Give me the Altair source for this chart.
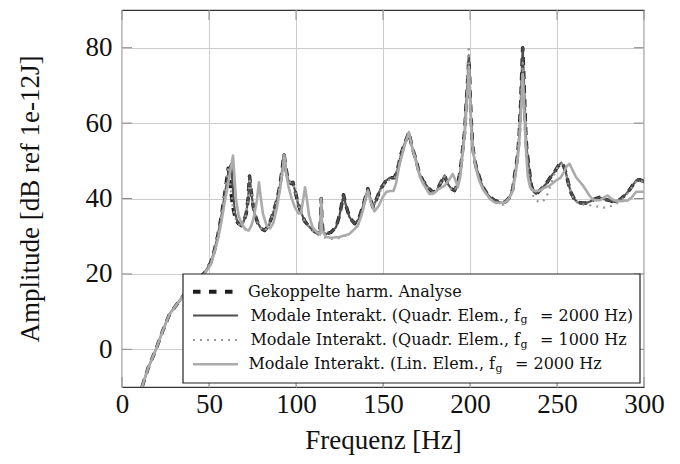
import altair as alt
import pandas as pd

# ---------------- data ----------------
# Gekoppelte harm. Analyse (black dashed)
f_harm = [11.5, 15, 19.5, 23.5, 27.5, 35, 42, 47.5, 51, 53, 55, 57, 59, 60.2, 61, 61.8, 62.6, 63.6, 65, 66.6,
          68.6, 70, 71.4, 72.5, 73.3, 74.2, 75.2, 76.2, 78, 80, 82, 84.5, 86.7, 89, 90.6, 92, 93.1, 94.2, 95.4, 97,
          98.2, 99.5, 101, 102.5, 105, 107.8, 110.5, 113.6, 114.2, 114.5, 114.8, 115.5, 117.4, 120, 123, 125, 126.5, 127.3, 128.5, 130.8,
          133.7, 136, 138.5, 141.3, 142.8, 144.2, 146, 148.5, 151.9, 154, 156.6, 158.5, 160.5, 162.4, 164.9, 166.5, 169.1, 171, 172.9, 176,
          178.6, 180.6, 183, 185.4, 187, 189.2, 191.1, 193, 194.5, 195.9, 197, 197.8, 198.8, 199.3, 199.8, 200.3, 200.7, 201.6, 202.5, 203.6,
          205.5, 207.4, 209.5, 211.2, 214, 217, 219, 220.8, 222.7, 224.6, 225.6, 226.5, 227.5, 228.3, 229.2, 229.8, 230.3, 230.8, 231.4, 232,
          232.6, 233.8, 235.2, 236.5, 238, 240.5, 243.8, 246, 248.5, 250.5, 252.4, 254, 255.3, 256.8, 258.1, 260, 261.9, 264, 266.7, 269,
          271.5, 274.4, 277, 280.1, 282, 284, 287, 289.7, 292, 295.5, 297.5, 300]
a_harm = [-10, -5, 0, 5, 9.5, 14, 17.5, 20.3, 23, 26, 30, 35, 41, 45, 48, 46, 42, 38, 35, 33.5,
          32.8, 34, 36, 40, 46, 42, 38.5, 36, 33.5, 32, 31.5, 33, 35.9, 39.5, 43, 47.5, 51.8, 48, 45, 44,
          44.3, 42, 39, 36.8, 34, 32.4, 31.3, 30.6, 35, 40, 35, 31, 30.6, 31, 32.4, 35.5, 39, 41, 38.5, 35,
          33.3, 34.5, 38, 42.6, 40, 37.7, 39.5, 42.5, 44.8, 45.5, 45.5, 48, 52, 54.5, 57.6, 54, 50, 46.5, 44.8, 42.8,
          41.7, 41.9, 44, 46.1, 44, 42.6, 42.1, 44, 47.5, 53.6, 58, 65, 72, 77, 72, 65, 60.7, 53.6, 50.5, 48.3,
          45.5, 43, 41.5, 40.5, 39.5, 39, 38.8, 39.3, 40.3, 42.5, 46, 48.5, 52, 57, 66, 74, 80, 74, 66, 58,
          53, 48.5, 43.5, 41.8, 41.2, 42.3, 43.9, 45.5, 47, 48.5, 49.5, 48.5, 46.5, 43.5, 41.5, 39.8, 39, 38.8, 38.8, 39.2,
          39.8, 40.3, 39.8, 39.5, 39.2, 39, 40, 41.2, 42.5, 44.8, 45, 44.5]

# Modale Interakt. (Quadr. Elem., fg = 2000 Hz)  (dark grey solid)
f_quad2000 = [11.5, 15, 19.5, 23.5, 27.5, 35, 42, 47.5, 51, 53, 55, 57, 59, 60.2, 61, 62, 62.8, 63.5, 64.3, 65,
              66.6, 68.6, 70, 71.4, 72.5, 73.3, 74.2, 75.2, 76.2, 78, 80, 82, 84.5, 86.7, 89, 90.6, 92, 93.1, 94.2, 95.4,
              97, 98.2, 99.5, 101, 102.5, 105, 107.8, 110.5, 113.6, 114.2, 114.5, 114.8, 115.5, 117.4, 120, 123, 125, 126.5, 127.3, 128.5,
              130.8, 133.7, 136, 138.5, 141.3, 142.8, 144.2, 146, 148.5, 151.9, 154, 156.6, 158.5, 160.5, 162.4, 164.9, 166.5, 169.1, 171, 172.9,
              176, 178.6, 180.6, 183, 185.4, 187, 189.2, 191.1, 193, 194.5, 195.9, 197, 197.8, 198.8, 199.3, 199.8, 200.3, 200.7, 201.6, 202.5,
              203.6, 205.5, 207.4, 209.5, 211.2, 214, 217, 219, 220.8, 222.7, 224.6, 225.6, 226.5, 227.5, 228.3, 229.2, 229.8, 230.3, 230.8, 231.4,
              232, 232.6, 233.8, 235.2, 236.5, 238, 240.5, 243.8, 246, 248.5, 250.5, 252.4, 254, 255.3, 256.8, 258.1, 260, 261.9, 264, 266.7,
              269, 271.5, 274.4, 277, 280.1, 282, 284, 287, 289.7, 292, 295.5, 297.5, 300]
a_quad2000 = [-10, -5, 0, 5, 9.5, 14, 17.5, 20.3, 23, 26, 30, 35, 41, 44, 46.5, 48.5, 49.2, 44, 39, 36,
              33.5, 32.8, 34, 36, 40, 46, 42, 38.5, 36, 33.5, 32, 31.5, 33, 35.9, 39.5, 43, 47.5, 51.8, 48, 45,
              44, 44.3, 42, 39, 36.8, 34, 32.4, 31.3, 30.6, 35, 40, 35, 31, 30.6, 31, 32.4, 35.5, 39, 41, 38.5,
              35, 33.3, 34.5, 38, 42.6, 40, 37.7, 39.5, 42.5, 44.8, 45.5, 45.5, 48, 52, 54.5, 57.6, 54, 50, 46.5, 44.8,
              42.8, 41.7, 41.9, 44, 46.1, 44, 42.6, 42.1, 44, 47.5, 53.6, 58, 65, 73, 78, 73, 65, 60.7, 53.6, 50.5,
              48.3, 45.5, 43, 41.5, 40.5, 39.5, 39, 38.8, 39.3, 40.3, 42.5, 46, 48.5, 52, 57, 66, 74, 80, 74, 66,
              58, 53, 48.5, 43.5, 41.8, 41.2, 42.3, 43.9, 45.5, 47, 48.5, 49.5, 48.5, 46.5, 43.5, 41.5, 39.8, 39, 38.8, 38.8,
              39.2, 39.8, 40.3, 39.8, 39.5, 39.2, 39, 40, 41.2, 42.5, 44.8, 45, 44.5]

# Modale Interakt. (Quadr. Elem., fg = 1000 Hz)  (light grey dotted)
f_quad1000 = [11.5, 15, 19.5, 23.5, 27.5, 35, 42, 47.5, 51, 53, 55, 57, 59, 60.2, 61, 61.8, 62.6, 63.6, 65, 66.6,
              68.6, 70, 71.4, 72.5, 73.3, 74.2, 75.2, 76.2, 78, 80, 82, 84.5, 86.7, 89, 90.6, 92, 93.1, 94.2, 95.4, 97,
              98.2, 99.5, 101, 102.5, 105, 107.8, 111, 115, 119, 123, 127, 131, 135, 138.5, 141.3, 142.8, 144.2, 146, 148.5, 151.9,
              154, 156.6, 158.5, 160.5, 162.4, 164.9, 166.5, 169.1, 171, 172.9, 176, 178.6, 180.6, 183, 185.4, 187, 189.2, 191.1, 193, 194.5,
              195.9, 197, 197.8, 198.8, 199.3, 199.8, 200.3, 200.7, 201.6, 202.5, 203.6, 205.5, 207.4, 209.5, 211.2, 214, 217, 219, 220.8, 222.7,
              224.6, 225.6, 226.5, 227.5, 228.3, 229.2, 229.8, 230.3, 230.8, 231.4, 232, 232.6, 233.8, 235.2, 236.5, 238, 240, 242, 244, 246,
              248.5, 250.5, 252.4, 254, 255.3, 256.8, 258.1, 260, 261.9, 264, 266.7, 269, 271.5, 274.4, 277, 280.1, 282, 284, 287, 289.7,
              292, 295.5, 297.5, 300]
a_quad1000 = [-10, -5, 0, 5, 9.5, 14, 17.5, 20.3, 23, 26, 30, 35, 41, 45, 48.5, 46, 42, 38, 35, 33.3,
              32.6, 33.8, 36, 40, 45.5, 42, 38.5, 36, 33.5, 32, 31.3, 33, 35.9, 39.5, 43, 47.5, 51.5, 48, 45, 44,
              44, 42, 39, 36.8, 34, 32.2, 30.8, 29.8, 29.3, 29.3, 29.8, 30.8, 32.5, 37, 42.3, 40, 37.5, 39.2, 42, 44.5,
              45, 45.3, 48, 52, 54.5, 57.4, 54, 50, 46.5, 44.8, 42.5, 41.5, 41.8, 44, 45.8, 44, 42.5, 42, 44, 47.5,
              53.6, 58.5, 66, 75, 80.5, 74, 66, 61, 53.6, 50.5, 48, 45, 42.8, 41, 40, 39, 38.5, 38.3, 38.8, 40,
              42.3, 45.5, 48.5, 52, 57, 65, 71, 76, 71, 64, 57, 52, 47, 42.5, 40.5, 39.5, 39, 39.3, 40.5, 43,
              46.5, 48.5, 49.3, 48.3, 46.3, 43.3, 41.3, 39.5, 38.8, 38.5, 38.3, 38.2, 38, 37.8, 37.6, 37.8, 38.2, 38.6, 39.6, 40.8,
              42.3, 44.5, 44.8, 44.3]

# Modale Interakt. (Lin. Elem., fg = 2000 Hz)  (light grey solid)
f_lin2000 = [11.5, 15, 19.5, 23.5, 27.5, 35, 42, 47.5, 51, 53, 55, 57, 59, 61, 62.5, 63.8, 64.6, 65.5, 67, 69,
             71, 72.9, 74.5, 76, 77.5, 78.7, 79.8, 81, 83, 85, 87, 89, 91, 92.5, 93.3, 94.3, 95.5, 97.5, 99.5, 101.5,
             103, 104.2, 105.2, 106.2, 107.5, 109.5, 112, 114, 114.5, 115, 117.4, 120.3, 125, 130.8, 135.6, 138, 140, 141.3, 143, 145,
             147.5, 150, 151.9, 154, 156, 157.5, 159.5, 162.4, 164.9, 166.5, 169.1, 171, 173, 176.7, 179, 182, 185.4, 188, 190.1, 191.5,
             193, 194.5, 195.9, 197, 197.8, 198.8, 199.3, 199.8, 200.3, 200.7, 201.6, 203.6, 205.5, 207.4, 211.2, 214, 217, 219, 221, 222.7,
             224.6, 226.5, 228, 229.2, 229.8, 230.3, 230.8, 231.5, 232.3, 233.2, 234.5, 236, 237.4, 239.9, 242.5, 245.7, 249.5, 252, 254, 255.5,
             257.2, 259, 261, 263, 265, 267, 268.6, 270.5, 272.5, 275, 277, 279.2, 281, 283, 287, 290.7, 293, 295.5, 300]
a_lin2000 = [-10, -5, 0, 5, 9.5, 14, 17.5, 20, 22.5, 25.5, 29, 33.5, 39, 44, 48, 51.4, 46, 40, 35.5, 33,
             31.8, 31.5, 33, 35.5, 39.5, 44.3, 40, 36, 33, 32, 33.5, 37.5, 43, 48, 51.4, 47, 43.5, 40, 37.5, 36,
             36.5, 40, 43, 40, 35.5, 32.4, 31, 30.5, 40, 31.5, 29.8, 29.6, 29.8, 30.6, 32.8, 36, 40, 42.1, 39, 36.6,
             38, 40.5, 41.7, 42, 42, 44, 49, 54, 57.6, 54, 49.5, 46, 44, 41.2, 41.3, 42.5, 43.4, 45, 46.5, 45,
             43, 46, 52.5, 57, 63, 70, 75, 70, 63, 59, 53, 47.5, 44.5, 42.5, 40, 39, 38.8, 38.8, 39.3, 40.2,
             42, 47.5, 53, 62, 68, 73, 68, 60, 52, 46, 43, 42.2, 42, 42.1, 42.8, 43.4, 44.8, 45.5, 47, 48.5,
             49.2, 47.5, 45.6, 44.5, 43.4, 42, 40.8, 39.8, 39.5, 39.6, 40.3, 40.8, 40, 39.5, 39.3, 39.5, 40.3, 41.8, 41.8]

x_ticks = [0, 50, 100, 150, 200, 250, 300]
y_ticks = [0, 20, 40, 60, 80]

legend_labels = ["Gekoppelte harm. Analyse",
                 "Modale Interakt. (Quadr. Elem., f", "= 2000 Hz)",
                 "Modale Interakt. (Quadr. Elem., f", "= 1000 Hz",
                 "Modale Interakt. (Lin. Elem., f", "= 2000 Hz"]

for f, a in [(f_harm, a_harm), (f_quad2000, a_quad2000), (f_quad1000, a_quad1000), (f_lin2000, a_lin2000)]:
    assert len(f) == len(a), (len(f), len(a))

# ---------------- layout ----------------
W, H = 522, 377
SERIF = "Liberation Serif"
LEGF = "DejaVu Serif"

xscale = alt.Scale(domain=[0, 300], nice=False, zero=False)
yscale = alt.Scale(domain=[-10, 90], nice=False, zero=False)

xaxis = alt.Axis(values=x_ticks, title="Frequenz [Hz]", grid=True, gridColor="#cccccc", gridWidth=1,
                 domain=False, ticks=False, tickSize=0, labelFont=SERIF, labelFontSize=27, labelColor="#111",
                 labelPadding=4, labelFlush=False, labelOverlap=False,
                 titleFont=SERIF, titleFontSize=27, titleFontWeight="normal", titleColor="#111",
                 titleY=53, titleBaseline="middle")
yaxis = alt.Axis(values=y_ticks, title="Amplitude [dB ref 1e-12J]", grid=True, gridColor="#cccccc", gridWidth=1,
                 domain=False, ticks=False, tickSize=0, labelFont=SERIF, labelFontSize=27, labelColor="#111",
                 labelPadding=10, labelFlush=False, labelOverlap=False,
                 titleFont=SERIF, titleFontSize=27, titleFontWeight="normal", titleColor="#111",
                 titleX=-92, titleY=H / 2, titleAngle=270, titleAlign="center", titleBaseline="middle")


def series(f, a, color, width, dash=None):
    df = pd.DataFrame({"f": f, "A": a})
    kw = dict(color=color, strokeWidth=width, clip=True, strokeJoin="round")
    if dash:
        kw["strokeDash"] = dash
        kw["strokeCap"] = "butt"
    return alt.Chart(df).mark_line(**kw).encode(
        x=alt.X("f:Q", scale=xscale, axis=xaxis),
        y=alt.Y("A:Q", scale=yscale, axis=yaxis),
    )


C_HARM, C_Q2, C_Q1, C_LIN = "#1c1c1c", "#4f4f4f", "#9a9a9a", "#ababab"
D_HARM, D_DOT = [8, 6], [2, 5]

l_harm = series(f_harm, a_harm, C_HARM, 3.5, D_HARM)
l_q2 = series(f_quad2000, a_quad2000, C_Q2, 2.2)
l_q1 = series(f_quad1000, a_quad1000, C_Q1, 2.2, D_DOT)
l_lin = series(f_lin2000, a_lin2000, C_LIN, 2.6)

# inward tick marks on all four sides
xt = pd.DataFrame({"f": x_ticks})
yt = pd.DataFrame({"A": y_ticks})
TL = 10
tick_b = alt.Chart(xt).mark_rule(color="#8a8a8a", strokeWidth=1).encode(
    x=alt.X("f:Q", scale=xscale), y=alt.value(H), y2=alt.value(H - TL))
tick_t = alt.Chart(xt).mark_rule(color="#8a8a8a", strokeWidth=1).encode(
    x=alt.X("f:Q", scale=xscale), y=alt.value(0), y2=alt.value(TL))
tick_l = alt.Chart(yt).mark_rule(color="#8a8a8a", strokeWidth=1).encode(
    y=alt.Y("A:Q", scale=yscale), x=alt.value(0), x2=alt.value(TL))
tick_r = alt.Chart(yt).mark_rule(color="#8a8a8a", strokeWidth=1).encode(
    y=alt.Y("A:Q", scale=yscale), x=alt.value(W), x2=alt.value(W - TL))

# ---------------- manual legend ----------------
one = pd.DataFrame({"k": [0]})
BX0, BX1, BY0, BY1 = 61, 518, 264, 373
rows = [281.7, 305.5, 330, 354.3]
SX0, SX1, TX = 71, 116, 126
LFS = 16

leg = [alt.Chart(one).mark_rect(fill="white", stroke="#222", strokeWidth=1.2).encode(
    x=alt.value(BX0), x2=alt.value(BX1), y=alt.value(BY0), y2=alt.value(BY1))]
styles = [(C_HARM, 4, [7.5, 8.5]), (C_Q2, 2.2, None), (C_Q1, 2.2, D_DOT), (C_LIN, 2.6, None)]
for (c, w, d), yy in zip(styles, rows):
    kw = dict(color=c, strokeWidth=w)
    if d:
        kw["strokeDash"] = d
        kw["strokeCap"] = "butt"
    leg.append(alt.Chart(one).mark_rule(**kw).encode(
        x=alt.value(SX0), x2=alt.value(SX1), y=alt.value(yy)))


def txt(s, x, y, size=LFS, align="left"):
    return alt.Chart(one).mark_text(text=s, align=align, baseline="middle", font=LEGF,
                                    fontSize=size, color="#111").encode(x=alt.value(x), y=alt.value(y))


leg.append(txt(legend_labels[0], TX, rows[0]))
# rows with subscript g : (prefix, suffix, x of subscript, x of suffix)
sub_rows = [(legend_labels[1], legend_labels[2], 398, 418, rows[1]),
            (legend_labels[3], legend_labels[4], 398, 418, rows[2]),
            (legend_labels[5], legend_labels[6], 373, 393, rows[3])]
for pre, suf, xg, xs, yy in sub_rows:
    leg.append(txt(pre, xg, yy, align="right"))
    leg.append(txt("g", xg + 0.5, yy + 4.5, size=11))
    leg.append(txt(suf, xs, yy))

chart = alt.layer(l_harm, l_q2, l_q1, l_lin, tick_b, tick_t, tick_l, tick_r, *leg).properties(
    width=W, height=H,
    autosize=alt.AutoSizeParams(type="none"),
    padding={"left": 122, "top": 10, "right": 36, "bottom": 77},
).configure_view(stroke="#333333", strokeWidth=1.2)

chart.save("out.html", embed_options={"renderer": "svg", "actions": False})
